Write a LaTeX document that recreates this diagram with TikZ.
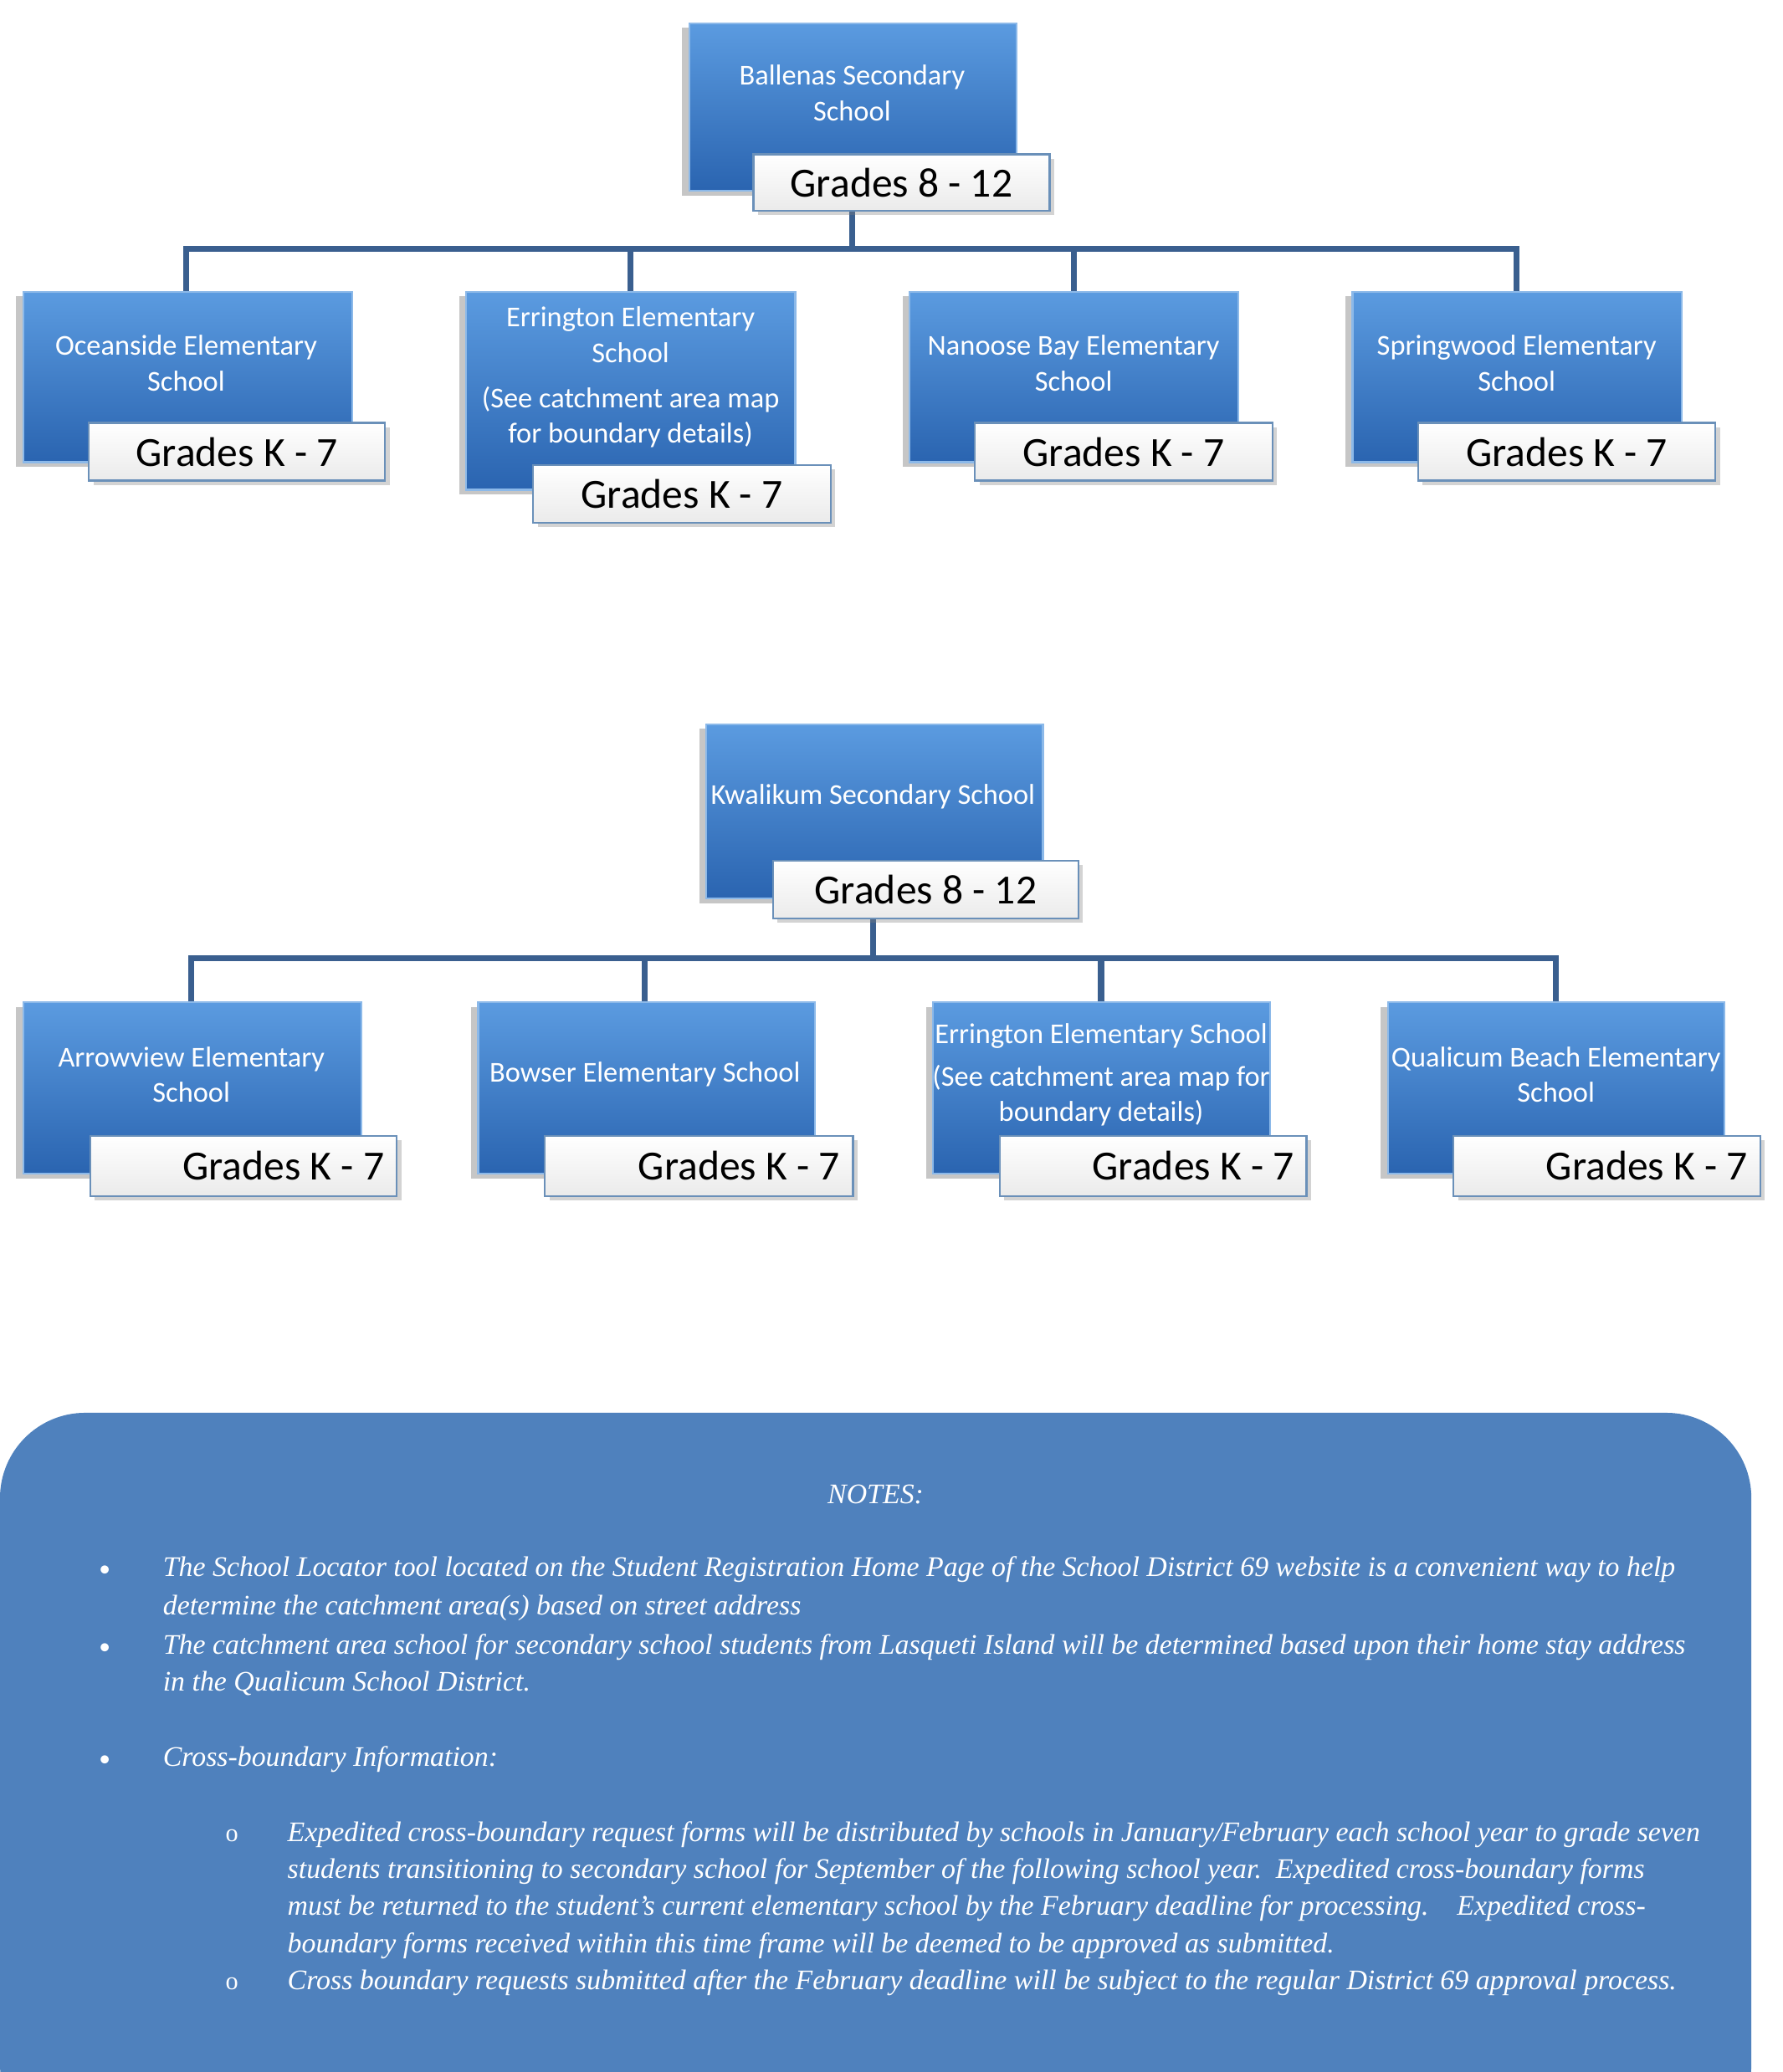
\documentclass[tikz,border=0pt]{standalone}
\usepackage{fontspec}
\setmainfont{Carlito}
\newfontfamily\notesfont{Liberation Serif}
\usetikzlibrary{shadows}
\definecolor{boxtop}{HTML}{5B9BE0}
\definecolor{boxbot}{HTML}{2A64B0}
\definecolor{linkcol}{HTML}{3A5F8F}
\definecolor{notecol}{HTML}{4F81BD}
\tikzset{
  school/.style={draw=boxtop!70!white,line width=0.8pt,top color=boxtop,bottom color=boxbot,
    anchor=north west,inner sep=0pt,drop shadow={opacity=0.45,shadow xshift=-3pt,shadow yshift=-2pt}},
  schooltext/.style={text=white,align=center,font=\fontsize{12.5}{15.5}\selectfont},
  grades/.style={draw=boxtop!60!gray,line width=0.8pt,top color=white,bottom color=black!8,
    anchor=north west,inner sep=0pt,font=\fontsize{18}{20}\selectfont,
    drop shadow={opacity=0.35,shadow xshift=2pt,shadow yshift=-2pt}},
  link/.style={draw=linkcol,line width=2.6pt},
  notetext/.style={text=white,anchor=base west,font=\notesfont\itshape\fontsize{12.3}{15}\selectfont,inner sep=0pt}
}
\begin{document}
\begin{tikzpicture}[x=0.02cm,y=-0.02cm]
\useasboundingbox (0,0) rectangle (1360,1581);
% first tree
\draw[link] (650,150) -- (650,190) coordinate (top1);
\draw[link] (142,222) -- (142,190) -- (1157,190) -- (1157,222);
\draw[link] (481,190) -- (481,222);
\draw[link] (819,190) -- (819,222);
\node[school,minimum width=5cm,minimum height=2.56cm] (ballenas) at (525,17) {};
\node[schooltext] (ballenasT) at (650,71) {Ballenas Secondary\\School};
\node[grades,minimum width=4.52cm,minimum height=0.86cm] (ballenasG) at (574,117) {Grades 8 - 12};
\node[school,minimum width=5.02cm,minimum height=2.6cm] (oceanside) at (17,222) {};
\node[schooltext] (oceansideT) at (142,277) {Oceanside Elementary\\School};
\node[grades,minimum width=4.52cm,minimum height=0.88cm] (oceansideG) at (67,322) {Grades K - 7};
\node[school,minimum width=5.02cm,minimum height=3.02cm] (errington) at (355,222) {};
\node[schooltext] (erringtonT) at (481,288) {Errington Elementary\\School\\[4pt](See catchment area map\\for boundary details)};
\node[grades,minimum width=4.54cm,minimum height=0.88cm] (erringtonG) at (406,354) {Grades K - 7};
\node[school,minimum width=5.02cm,minimum height=2.6cm] (nanoose) at (693,222) {};
\node[schooltext] (nanooseT) at (819,277) {Nanoose Bay Elementary\\School};
\node[grades,minimum width=4.54cm,minimum height=0.88cm] (nanooseG) at (743,322) {Grades K - 7};
\node[school,minimum width=5.02cm,minimum height=2.6cm] (springwood) at (1031,222) {};
\node[schooltext] (springwoodT) at (1157,277) {Springwood Elementary\\School};
\node[grades,minimum width=4.54cm,minimum height=0.88cm] (springwoodG) at (1081,322) {Grades K - 7};
% second tree
\draw[link] (666,690) -- (666,731);
\draw[link] (146,764) -- (146,731) -- (1187,731) -- (1187,764);
\draw[link] (492,731) -- (492,764);
\draw[link] (840,731) -- (840,764);
\node[school,minimum width=5.14cm,minimum height=2.66cm] (kwalikum) at (538,552) {};
\node[schooltext] (kwalikumT) at (666,608) {Kwalikum Secondary School};
\node[grades,minimum width=4.66cm,minimum height=0.88cm] (kwalikumG) at (589,656) {Grades 8 - 12};
\node[school,minimum width=5.16cm,minimum height=2.62cm] (arrowview) at (17,764) {};
\node[schooltext] (arrowviewT) at (146,820) {Arrowview Elementary\\School};
\node[grades,minimum width=4.68cm,minimum height=0.92cm,text width=4.3cm,align=flush right] (arrowviewG) at (68,866) {Grades K - 7};
\node[school,minimum width=5.14cm,minimum height=2.62cm] (bowser) at (364,764) {};
\node[schooltext] (bowserT) at (492,820) {Bowser Elementary School};
\node[grades,minimum width=4.7cm,minimum height=0.92cm,text width=4.3cm,align=flush right] (bowserG) at (415,866) {Grades K - 7};
\node[school,minimum width=5.14cm,minimum height=2.62cm] (errington2) at (711,764) {};
\node[schooltext] (errington2T) at (840,820) {Errington Elementary School\\[3pt](See catchment area map for\\boundary details)};
\node[grades,minimum width=4.68cm,minimum height=0.92cm,text width=4.3cm,align=flush right] (errington2G) at (762,866) {Grades K - 7};
\node[school,minimum width=5.14cm,minimum height=2.62cm] (qualicum) at (1058,764) {};
\node[schooltext] (qualicumT) at (1187,820) {Qualicum Beach Elementary\\School};
\node[grades,minimum width=4.68cm,minimum height=0.92cm,text width=4.3cm,align=flush right] (qualicumG) at (1108,866) {Grades K - 7};
% notes
\fill[notecol,rounded corners=1.3cm] (0,1078) rectangle (1336,1640);
\node[notetext,anchor=base] (notesT) at (668,1147) {NOTES:};
\foreach \yy in {1203,1262,1348} \node[text=white,anchor=base] at (80,\yy) {\textbullet};
\foreach \yy in {1405,1518} \node[text=white,anchor=base,font=\notesfont\fontsize{11}{13}\selectfont] at (177,\yy) {o};
\node[notetext] (n1a) at (124,1203) {The School Locator tool located on the Student Registration Home Page of the School District 69 website is a convenient way to help};
\node[notetext] (n1b) at (124,1232) {determine the catchment area(s) based on street address};
\node[notetext] (n2a) at (124,1262) {The catchment area school for secondary school students from Lasqueti Island will be determined based upon their home stay address};
\node[notetext] (n2b) at (124,1290) {in the Qualicum School District.};
\node[notetext] (n3) at (124,1348) {Cross-boundary Information:};
\node[notetext] (s1a) at (219,1405) {Expedited cross-boundary request forms will be distributed by schools in January/February each school year to grade seven};
\node[notetext] (s1b) at (219,1433) {students transitioning to secondary school for September of the following school year.\ \ Expedited cross-boundary forms};
\node[notetext] (s1c) at (219,1461) {must be returned to the student’s current elementary school by the February deadline for processing.\ \ \ \ Expedited cross-};
\node[notetext] (s1d) at (219,1490) {boundary forms received within this time frame will be deemed to be approved as submitted.};
\node[notetext] (s2) at (219,1518) {Cross boundary requests submitted after the February deadline will be subject to the regular District 69 approval process.};
\end{tikzpicture}
\end{document}
